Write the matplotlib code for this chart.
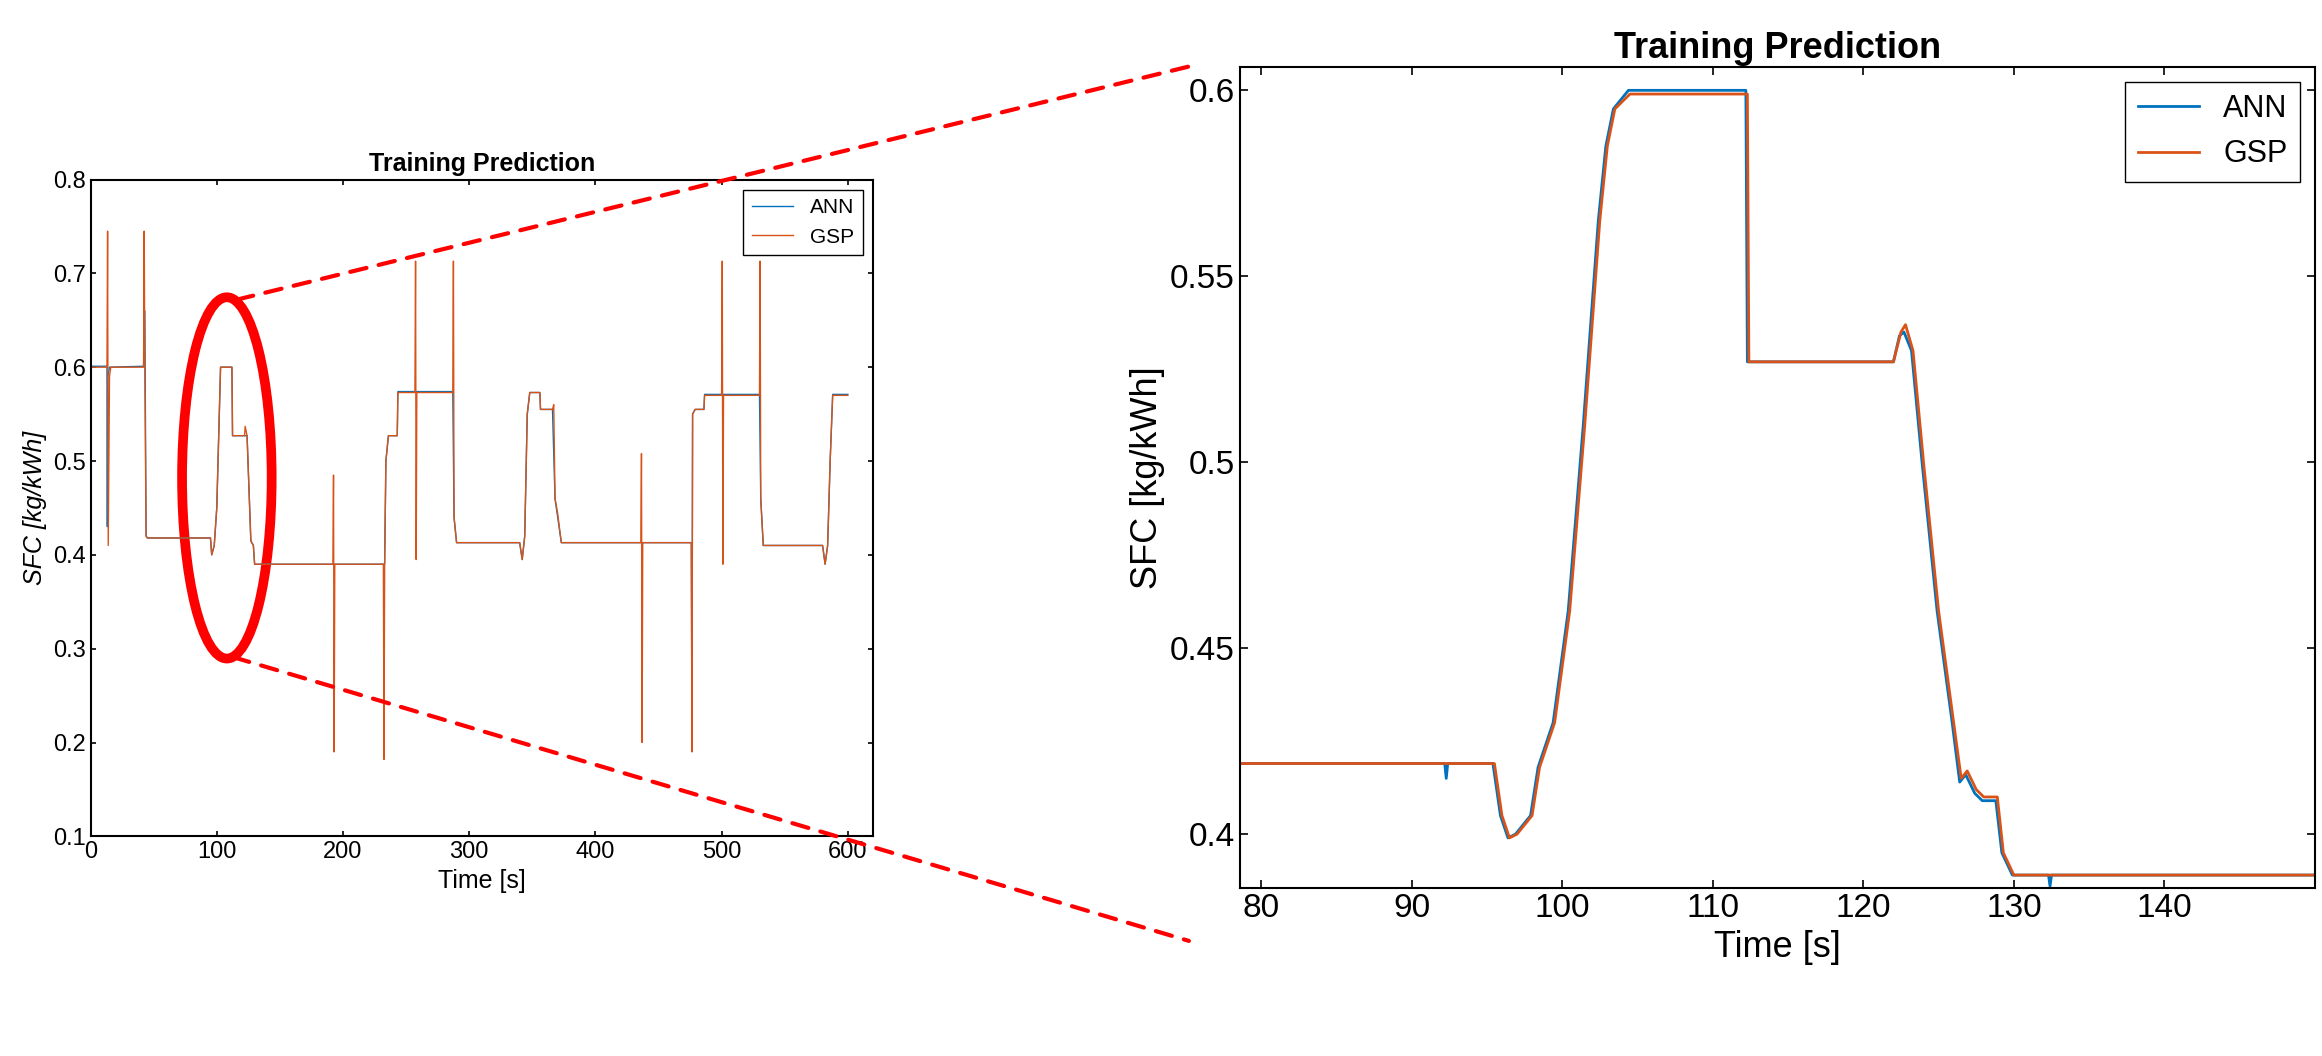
import matplotlib
matplotlib.use("Agg")
import matplotlib.pyplot as plt
from matplotlib.patches import Ellipse, ConnectionPatch

plt.rcParams['font.family'] = ['Liberation Sans', 'DejaVu Sans']

BLUE = '#0072BD'
ORANGE = '#D95319'

# Full-run series (left panel)
gsp_t = [0, 13, 13.5, 14, 15, 16, 42, 42.5, 43, 44, 45, 95, 96, 98, 100, 103, 112, 112.5, 122, 122.5, 124, 127, 129, 130,
         192, 192.5, 193, 193.5, 232, 232.5, 233, 234, 236, 243, 243.5, 257, 257.5, 258, 258.5, 287, 287.5, 288, 290,
         340, 342, 344, 346, 348, 356, 356.5, 366, 367, 368, 370, 373, 436, 436.5, 437, 437.5, 476, 476.5, 477, 479,
         486, 486.5, 500, 500.5, 501, 501.5, 530, 530.5, 531, 533, 580, 582, 584, 586, 588, 600]
gsp_v = [0.6, 0.6, 0.745, 0.41, 0.59, 0.6, 0.6, 0.745, 0.6, 0.42, 0.418, 0.418, 0.40, 0.41, 0.45, 0.6, 0.6, 0.527, 0.527, 0.537, 0.527, 0.415, 0.41, 0.39,
         0.39, 0.485, 0.19, 0.39, 0.39, 0.182, 0.39, 0.5, 0.527, 0.527, 0.573, 0.573, 0.713, 0.395, 0.573, 0.573, 0.713, 0.44, 0.413,
         0.413, 0.395, 0.42, 0.55, 0.573, 0.573, 0.555, 0.555, 0.56, 0.46, 0.445, 0.413, 0.413, 0.508, 0.2, 0.413, 0.413, 0.19, 0.55, 0.555,
         0.555, 0.57, 0.57, 0.713, 0.39, 0.57, 0.57, 0.713, 0.46, 0.41, 0.41, 0.39, 0.41, 0.50, 0.57, 0.57]
ann_t = [0, 13, 13.3, 13.6, 15, 42, 43, 44, 45, 95, 96, 98, 100, 103, 112, 112.5, 122, 124, 127, 129, 130,
         232, 233, 234, 236, 243, 243.5, 287, 288, 290, 340, 342, 344, 346, 348, 356, 356.5, 366, 368, 373,
         476, 476.5, 477, 479, 486, 486.5, 530, 531, 533, 580, 582, 584, 586, 588, 600]
ann_v = [0.601, 0.601, 0.43, 0.59, 0.6, 0.601, 0.66, 0.42, 0.418, 0.418, 0.40, 0.41, 0.45, 0.6, 0.6, 0.527, 0.527, 0.527, 0.415, 0.41, 0.39,
         0.39, 0.39, 0.5, 0.527, 0.527, 0.574, 0.574, 0.44, 0.413, 0.413, 0.395, 0.42, 0.55, 0.573, 0.573, 0.555, 0.555, 0.46, 0.413,
         0.413, 0.20, 0.55, 0.555, 0.555, 0.571, 0.571, 0.46, 0.41, 0.41, 0.39, 0.41, 0.50, 0.571, 0.571]

# Zoomed window (right panel)
zg_t = [75, 95.5, 96, 96.5, 97, 98, 98.5, 99.5, 100.5, 101.5, 102.5, 103, 103.5, 104.5, 112.3, 112.4, 122, 122.5, 122.8, 123.3,
        124, 125, 126, 126.5, 126.9, 127.5, 128, 128.9, 129.3, 130, 150]
zg_v = [0.419, 0.419, 0.405, 0.399, 0.4, 0.405, 0.418, 0.43, 0.46, 0.51, 0.565, 0.585, 0.595, 0.599, 0.599, 0.527, 0.527, 0.535, 0.537, 0.53,
        0.5, 0.46, 0.43, 0.415, 0.417, 0.412, 0.41, 0.41, 0.395, 0.389, 0.389]
za_t = [75, 92.2, 92.3, 92.4, 95.4, 95.9, 96.4, 96.9, 97.9, 98.4, 99.4, 100.4, 101.4, 102.4, 102.9, 103.4, 104.4, 112.2, 112.3, 122, 122.4,
        122.7, 123.2, 123.9, 124.9, 125.9, 126.4, 126.8, 127.4, 127.9, 128.8, 129.2, 129.9, 132.3, 132.4, 132.5, 150]
za_v = [0.419, 0.419, 0.415, 0.419, 0.419, 0.405, 0.399, 0.4, 0.405, 0.418, 0.43, 0.46, 0.51, 0.565, 0.585, 0.595, 0.6, 0.6, 0.527, 0.527, 0.534,
        0.535, 0.53, 0.5, 0.46, 0.43, 0.414, 0.416, 0.411, 0.409, 0.409, 0.395, 0.389, 0.389, 0.386, 0.389, 0.389]

fig = plt.figure(figsize=(23.22, 10.56), dpi=100)

ax1 = fig.add_axes([0.039, 0.208, 0.337, 0.622])
ax1.plot(ann_t, ann_v, color=BLUE, lw=1, label='ANN')
ax1.plot(gsp_t, gsp_v, color=ORANGE, lw=1, label='GSP')
ax1.set_xlim(0, 620)
ax1.set_ylim(0.1, 0.8)
ax1.set_xticks([0, 100, 200, 300, 400, 500, 600])
ax1.set_yticks([0.1, 0.2, 0.3, 0.4, 0.5, 0.6, 0.7, 0.8])
ax1.tick_params(direction='in', top=True, right=True, labelsize=17, width=1.2)
ax1.set_xlabel('Time [s]', fontsize=18)
ax1.set_ylabel('SFC [kg/kWh]', fontsize=18, style='italic')
ax1.set_title('Training Prediction', fontsize=18, fontweight='bold')
ax1.legend(loc='upper right', fontsize=15, fancybox=False, edgecolor='k', framealpha=1)
for s in ax1.spines.values():
    s.set_linewidth(1.5)

ell = Ellipse((108, 0.482), 71, 0.385, fill=False, edgecolor='red', lw=7)
ax1.add_patch(ell)

ax2 = fig.add_axes([0.534, 0.159, 0.463, 0.778])
ax2.plot(za_t, za_v, color=BLUE, lw=2, label='ANN')
ax2.plot(zg_t, zg_v, color=ORANGE, lw=2, label='GSP')
ax2.set_xlim(78.6, 150)
ax2.set_ylim(0.3855, 0.6064)
ax2.set_xticks([80, 90, 100, 110, 120, 130, 140])
ax2.set_yticks([0.4, 0.45, 0.5, 0.55, 0.6])
ax2.set_yticklabels(['0.4', '0.45', '0.5', '0.55', '0.6'])
ax2.tick_params(direction='in', top=True, right=True, labelsize=24, width=1.2, length=6)
ax2.set_xlabel('Time [s]', fontsize=26)
ax2.set_ylabel('SFC [kg/kWh]', fontsize=26)
ax2.set_title('Training Prediction', fontsize=26, fontweight='bold')
ax2.legend(loc='upper right', fontsize=22, fancybox=False, edgecolor='k', framealpha=1)
for s in ax2.spines.values():
    s.set_linewidth(1.5)

for (xa, ya), yb in [((116, 0.672), 0.937), ((113, 0.291), 0.109)]:
    cp = ConnectionPatch(xyA=(xa, ya), coordsA=ax1.transData, xyB=(0.512, yb), coordsB=fig.transFigure,
                         color='red', lw=3, linestyle=(0, (4, 3)))
    fig.add_artist(cp)

fig.savefig('out.png', dpi=100)
